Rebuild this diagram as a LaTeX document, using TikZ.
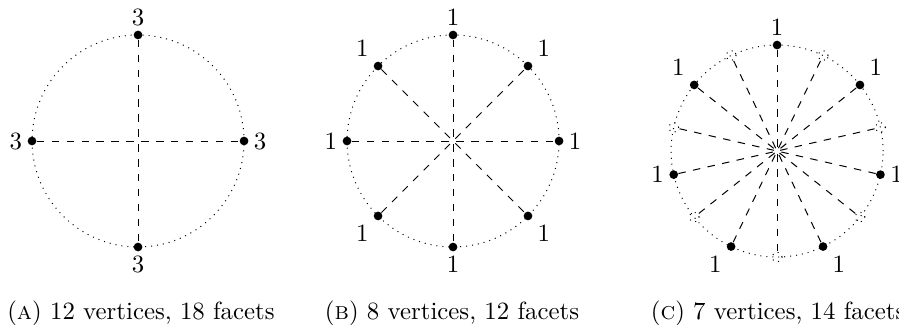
\documentclass[tikz,border=0pt]{standalone}
\usepackage{tikz}
\usetikzlibrary{calc}

\begin{document}
\begin{tikzpicture}[
    label distance=-1.5pt,
    vtx/.style={circle, fill=black, inner sep=0pt, minimum size=3.5pt},
    ghost/.style={circle, draw=black, dotted, inner sep=0pt, minimum size=4pt},
    rim/.style={dotted},
    diam/.style={dashed},
    captxt/.style={anchor=base},
  ]
  \useasboundingbox (0,0) rectangle (12.72,4.585);
  \def\R{1.5}
  \coordinate (cA) at (1.953,2.59);
  \coordinate (cB) at (6.41,2.59);
  \coordinate (cC) at (10.995,2.448);

  % (a) four vertices
  \draw[rim] (cA) circle (\R);
  \foreach \ang/\pos [count=\i] in {90/above, 180/left, 270/below, 0/right}
    \node[vtx, label=\pos:$3$] (a\i) at ($(cA)+(\ang:\R)$) {};
  \draw[diam] (a1) -- (a3);
  \draw[diam] (a2) -- (a4);

  % (b) eight vertices
  \draw[rim] (cB) circle (\R);
  \foreach \ang/\pos [count=\i] in {90/above, 135/above left, 180/left, 225/below left,
                                    270/below, 315/below right, 0/right, 45/above right}
    \node[vtx, label=\pos:$1$] (b\i) at ($(cB)+(\ang:\R)$) {};
  \foreach \i/\j in {1/5, 2/6, 3/7, 4/8}
    \draw[diam] (b\i) -- (b\j);

  % (c) seven vertices and their antipodes
  \draw[rim] (cC) circle (\R);
  \foreach \ang/\pos [count=\i] in {90/above, 141.43/above left, 192.86/left, 244.29/below left,
                                    295.71/below right, 347.14/right, 38.57/above right} {
    \node[vtx, label=\pos:$1$] (c\i) at ($(cC)+(\ang:\R)$) {};
    \node[ghost] (g\i) at ($(cC)+(\ang+180:\R)$) {};
    \draw[diam] (c\i) -- (g\i);
  }

  \node[captxt] (capA) at (1.995,0.07) {(\textsc{a}) 12 vertices, 18 facets};
  \node[captxt] (capB) at (6.396,0.07) {(\textsc{b}) 8 vertices, 12 facets};
  \node[captxt] (capC) at (11.01,0.07) {(\textsc{c}) 7 vertices, 14 facets};
\end{tikzpicture}
\end{document}
